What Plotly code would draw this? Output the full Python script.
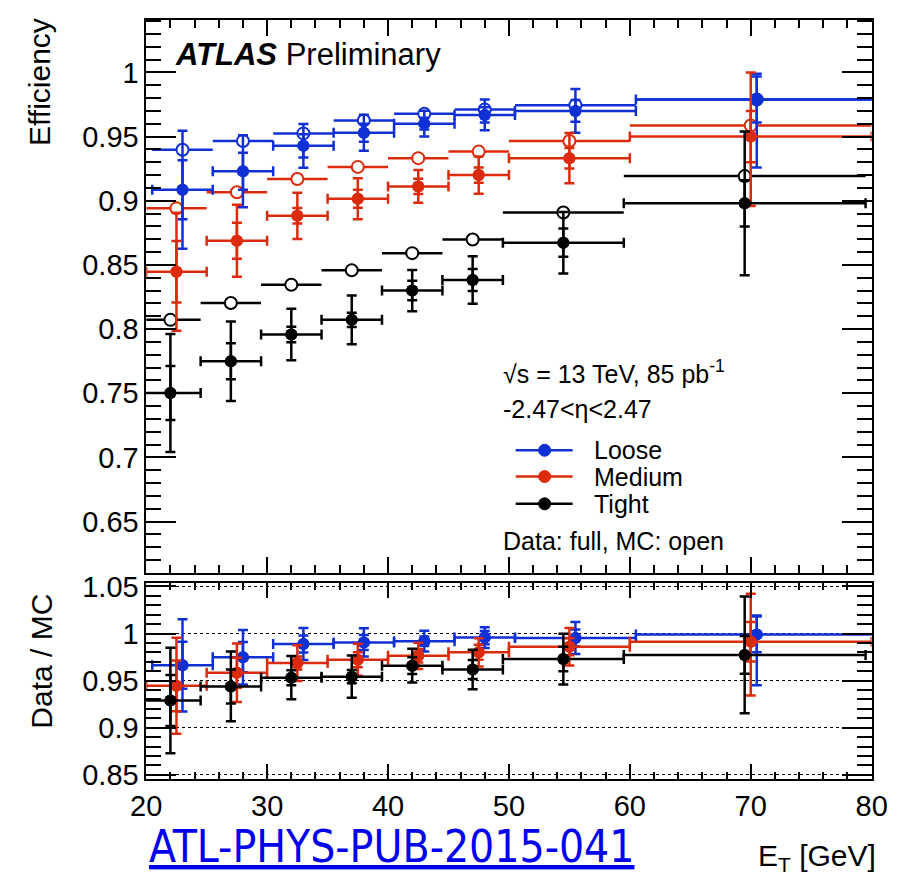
import plotly.graph_objects as go

W, H = 905, 882

# ---------------- data ----------------
bin_centers = [22.5, 27.5, 32.5, 37.5, 42.5, 47.5, 55.0, 70.0]
bin_halfwidths = [2.5, 2.5, 2.5, 2.5, 2.5, 2.5, 5.0, 10.0]

series_names = ["Loose", "Medium", "Tight"]

# efficiencies (top panel)
loose_data = [0.9086, 0.9230, 0.9428, 0.9530, 0.9601, 0.9669, 0.9700, 0.9789]
loose_mc = [0.9398, 0.9466, 0.9525, 0.9626, 0.9677, 0.9712, 0.9745, 0.9789]
medium_data = [0.8447, 0.8688, 0.8883, 0.9015, 0.9112, 0.9200, 0.9332, 0.9500]
medium_mc = [0.8941, 0.9066, 0.9170, 0.9264, 0.9332, 0.9383, 0.9466, 0.9586]
tight_data = [0.7502, 0.7750, 0.7958, 0.8072, 0.8300, 0.8382, 0.8673, 0.8980]
tight_mc = [0.8072, 0.8204, 0.8346, 0.8458, 0.8592, 0.8698, 0.8909, 0.9192]

# total (stat+syst) and stat uncertainties on the data efficiencies
loose_tot_up = [0.046, 0.028, 0.017, 0.014, 0.010, 0.012, 0.017, 0.020]
loose_tot_dn = [0.046, 0.028, 0.017, 0.014, 0.010, 0.012, 0.017, 0.053]
loose_stat = [0.023, 0.0145, 0.009, 0.007, 0.0046, 0.006, 0.0085, 0.018]
medium_tot_up = [0.046, 0.028, 0.018, 0.016, 0.0127, 0.0145, 0.0195, 0.050]
medium_tot_dn = [0.046, 0.028, 0.018, 0.016, 0.0127, 0.0145, 0.0195, 0.054]
medium_stat = [0.024, 0.014, 0.006, 0.007, 0.006, 0.006, 0.008, 0.020]
tight_tot_up = [0.046, 0.031, 0.020, 0.019, 0.016, 0.0185, 0.024, 0.056]
tight_tot_dn = [0.046, 0.031, 0.020, 0.019, 0.016, 0.0185, 0.024, 0.056]
tight_stat = [0.021, 0.014, 0.006, 0.0056, 0.0076, 0.0086, 0.011, 0.018]

# Data / MC (bottom panel)
loose_ratio = [0.9663, 0.9749, 0.9888, 0.9905, 0.9919, 0.9957, 0.9953, 0.9991]
medium_ratio = [0.9445, 0.9583, 0.9687, 0.9722, 0.9763, 0.9801, 0.9860, 0.9912]
tight_ratio = [0.9289, 0.9438, 0.9531, 0.9542, 0.9659, 0.9618, 0.9729, 0.9773]

loose_ratio_tot_up = [0.049, 0.029, 0.017, 0.015, 0.011, 0.011, 0.017, 0.020]
loose_ratio_tot_dn = [0.049, 0.029, 0.017, 0.015, 0.011, 0.011, 0.017, 0.054]
loose_ratio_stat = [0.025, 0.016, 0.009, 0.008, 0.005, 0.007, 0.009, 0.019]
medium_ratio_tot_up = [0.051, 0.031, 0.019, 0.017, 0.014, 0.015, 0.020, 0.051]
medium_ratio_tot_dn = [0.051, 0.031, 0.019, 0.017, 0.014, 0.015, 0.020, 0.057]
medium_ratio_stat = [0.027, 0.016, 0.007, 0.008, 0.007, 0.008, 0.009, 0.021]
tight_ratio_tot_up = [0.056, 0.037, 0.023, 0.0225, 0.018, 0.021, 0.027, 0.062]
tight_ratio_tot_dn = [0.056, 0.037, 0.023, 0.0225, 0.018, 0.021, 0.027, 0.062]
tight_ratio_stat = [0.027, 0.018, 0.008, 0.007, 0.009, 0.010, 0.013, 0.020]

x_tickvals = [20, 30, 40, 50, 60, 70, 80]
x_ticktext = ["20", "30", "40", "50", "60", "70", "80"]
eff_tickvals = [0.65, 0.7, 0.75, 0.8, 0.85, 0.9, 0.95, 1.0]
eff_ticktext = ["0.65", "0.7", "0.75", "0.8", "0.85", "0.9", "0.95", "1"]
ratio_tickvals = [0.85, 0.9, 0.95, 1.0, 1.05]
ratio_ticktext = ["0.85", "0.9", "0.95", "1", "1.05"]

# ---------------- styling ----------------
FONT = "Liberation Sans, Arial, Helvetica, sans-serif"
colors = {"Loose": "#0f30d4", "Medium": "#dc2a0c", "Tight": "#000000"}
x_shift = {"Loose": 0.5, "Medium": 0.0, "Tight": -0.5}

series = {
    "Loose": dict(data=loose_data, mc=loose_mc, up=loose_tot_up, dn=loose_tot_dn, stat=loose_stat,
                  r=loose_ratio, rup=loose_ratio_tot_up, rdn=loose_ratio_tot_dn, rstat=loose_ratio_stat),
    "Medium": dict(data=medium_data, mc=medium_mc, up=medium_tot_up, dn=medium_tot_dn, stat=medium_stat,
                   r=medium_ratio, rup=medium_ratio_tot_up, rdn=medium_ratio_tot_dn, rstat=medium_ratio_stat),
    "Tight": dict(data=tight_data, mc=tight_mc, up=tight_tot_up, dn=tight_tot_dn, stat=tight_stat,
                  r=tight_ratio, rup=tight_ratio_tot_up, rdn=tight_ratio_tot_dn, rstat=tight_ratio_stat),
}


def px_x(p):
    return p / W


def px_y(p):
    return 1 - p / H


fig = go.Figure()

LW = 2.5
CAP = 5

# MC (open markers) first
for name in series_names:
    s = series[name]
    c = colors[name]
    xs = [b + x_shift[name] for b in bin_centers]
    fig.add_trace(go.Scatter(
        x=xs, y=s["mc"], mode="markers", xaxis="x", yaxis="y", showlegend=False,
        marker=dict(symbol="circle", size=12, color="white", line=dict(color=c, width=2)),
        error_x=dict(type="data", array=bin_halfwidths, color=c, thickness=LW, width=0),
    ))

# data (full markers) with total and stat error bars
for name in series_names:
    s = series[name]
    c = colors[name]
    xs = [b + x_shift[name] for b in bin_centers]
    for (yk, upk, dnk, statk, xa, ya) in [("data", "up", "dn", "stat", "x", "y"),
                                          ("r", "rup", "rdn", "rstat", "x2", "y2")]:
        fig.add_trace(go.Scatter(
            x=xs, y=s[yk], mode="markers", xaxis=xa, yaxis=ya, showlegend=False,
            marker=dict(symbol="circle", size=12, color=c),
            error_x=dict(type="data", array=bin_halfwidths, color=c, thickness=LW, width=CAP),
            error_y=dict(type="data", symmetric=False, array=s[upk], arrayminus=s[dnk],
                         color=c, thickness=LW, width=CAP),
        ))
        fig.add_trace(go.Scatter(
            x=xs, y=s[yk], mode="markers", xaxis=xa, yaxis=ya, showlegend=False,
            marker=dict(symbol="circle", size=12, color=c),
            error_y=dict(type="data", array=s[statk], color=c, thickness=LW, width=CAP),
        ))

X_DOMAIN = [px_x(135), px_x(887)]
TOP_DOMAIN = [px_y(576), px_y(8)]
BOT_DOMAIN = [px_y(788), px_y(586)]

axis_common = dict(showline=True, linecolor="black", linewidth=1.5, mirror="ticks",
                   ticks="inside", tickcolor="black", tickwidth=1.5,
                   zeroline=False, tickfont=dict(family=FONT, size=29, color="black"))

xminor = dict(ticks="inside", tickmode="linear", tick0=20, dtick=2, ticklen=8,
              tickcolor="black", tickwidth=1.5)
yminor = dict(ticks="inside", tickmode="linear", tick0=0.6, dtick=0.01, ticklen=15,
              tickcolor="black", tickwidth=1.5)

fig.update_layout(
    width=W, height=H,
    margin=dict(l=0, r=0, t=0, b=0),
    paper_bgcolor="white", plot_bgcolor="white",
    showlegend=False,
    font=dict(family=FONT, color="black"),
    xaxis=dict(domain=X_DOMAIN, anchor="y", range=[20, 80], tickmode="array",
               tickvals=x_tickvals, ticktext=x_ticktext, showticklabels=False,
               ticklen=16, showgrid=False, minor=xminor, **axis_common),
    yaxis=dict(domain=TOP_DOMAIN, anchor="x", range=[0.61, 1.041], tickmode="array",
               tickvals=eff_tickvals, ticktext=eff_ticktext, ticklen=30, showgrid=False,
               minor=yminor, **axis_common),
    xaxis2=dict(domain=X_DOMAIN, anchor="y2", range=[20, 80], tickmode="array",
                tickvals=x_tickvals, ticktext=x_ticktext, ticklen=16, showgrid=False,
                minor=xminor, **axis_common),
    yaxis2=dict(domain=BOT_DOMAIN, anchor="x2", range=[0.845, 1.054], tickmode="array",
                tickvals=ratio_tickvals, ticktext=ratio_ticktext, ticklen=30,
                showgrid=True, gridcolor="black", griddash="dot", gridwidth=1,
                minor=dict(ticks="inside", tickmode="linear", tick0=0.8, dtick=0.01, ticklen=15,
                           tickcolor="black", tickwidth=1.5, showgrid=False),
                **axis_common),
)

ann = []


def add_text(text, xp, yp, size, xanchor="left", yanchor="middle", color="black", angle=0, family=FONT):
    ann.append(dict(text=text, x=px_x(xp), y=px_y(yp), xref="paper", yref="paper",
                    xanchor=xanchor, yanchor=yanchor, showarrow=False, textangle=angle,
                    font=dict(family=family, size=size, color=color)))


add_text("<b><i>ATLAS</i></b> Preliminary", 163, 44, 31)
add_text("√s = 13 TeV, 85 pb<sup>-1</sup>", 503, 370, 25)
add_text("-2.47&lt;η&lt;2.47", 503, 408, 25)
add_text("Data: full, MC: open", 503, 543, 25)
add_text("Efficiency", 25, 4, 30, xanchor="center", yanchor="top", angle=-90)
add_text("Data / MC", 27, 667, 30, xanchor="center", yanchor="middle", angle=-90)
add_text("E<sub>T</sub> [GeV]", 894, 868, 30, xanchor="right")
add_text("<u><span style='color:#0000ee'>ATL-PHYS-PUB-2015-041</span></u>",
         136, 857, 44, color="#0000ee",
         family="Liberation Sans Narrow, DejaVu Sans Condensed, Arial Narrow, sans-serif")

shapes = []
legend_y = {"Loose": 450, "Medium": 477, "Tight": 505}
for name in series_names:
    c = colors[name]
    yy = legend_y[name]
    shapes.append(dict(type="line", xref="paper", yref="paper", x0=px_x(518), x1=px_x(577),
                       y0=px_y(yy), y1=px_y(yy), line=dict(color=c, width=LW)))
    shapes.append(dict(type="circle", xref="paper", yref="paper", xsizemode="pixel", ysizemode="pixel",
                       xanchor=px_x(548), yanchor=px_y(yy), x0=-6, x1=6, y0=-6, y1=6,
                       fillcolor=c, line=dict(color=c, width=1)))
    add_text(name, 597, yy, 25)

fig.update_layout(annotations=ann, shapes=shapes)

fig.write_html("out.html")
